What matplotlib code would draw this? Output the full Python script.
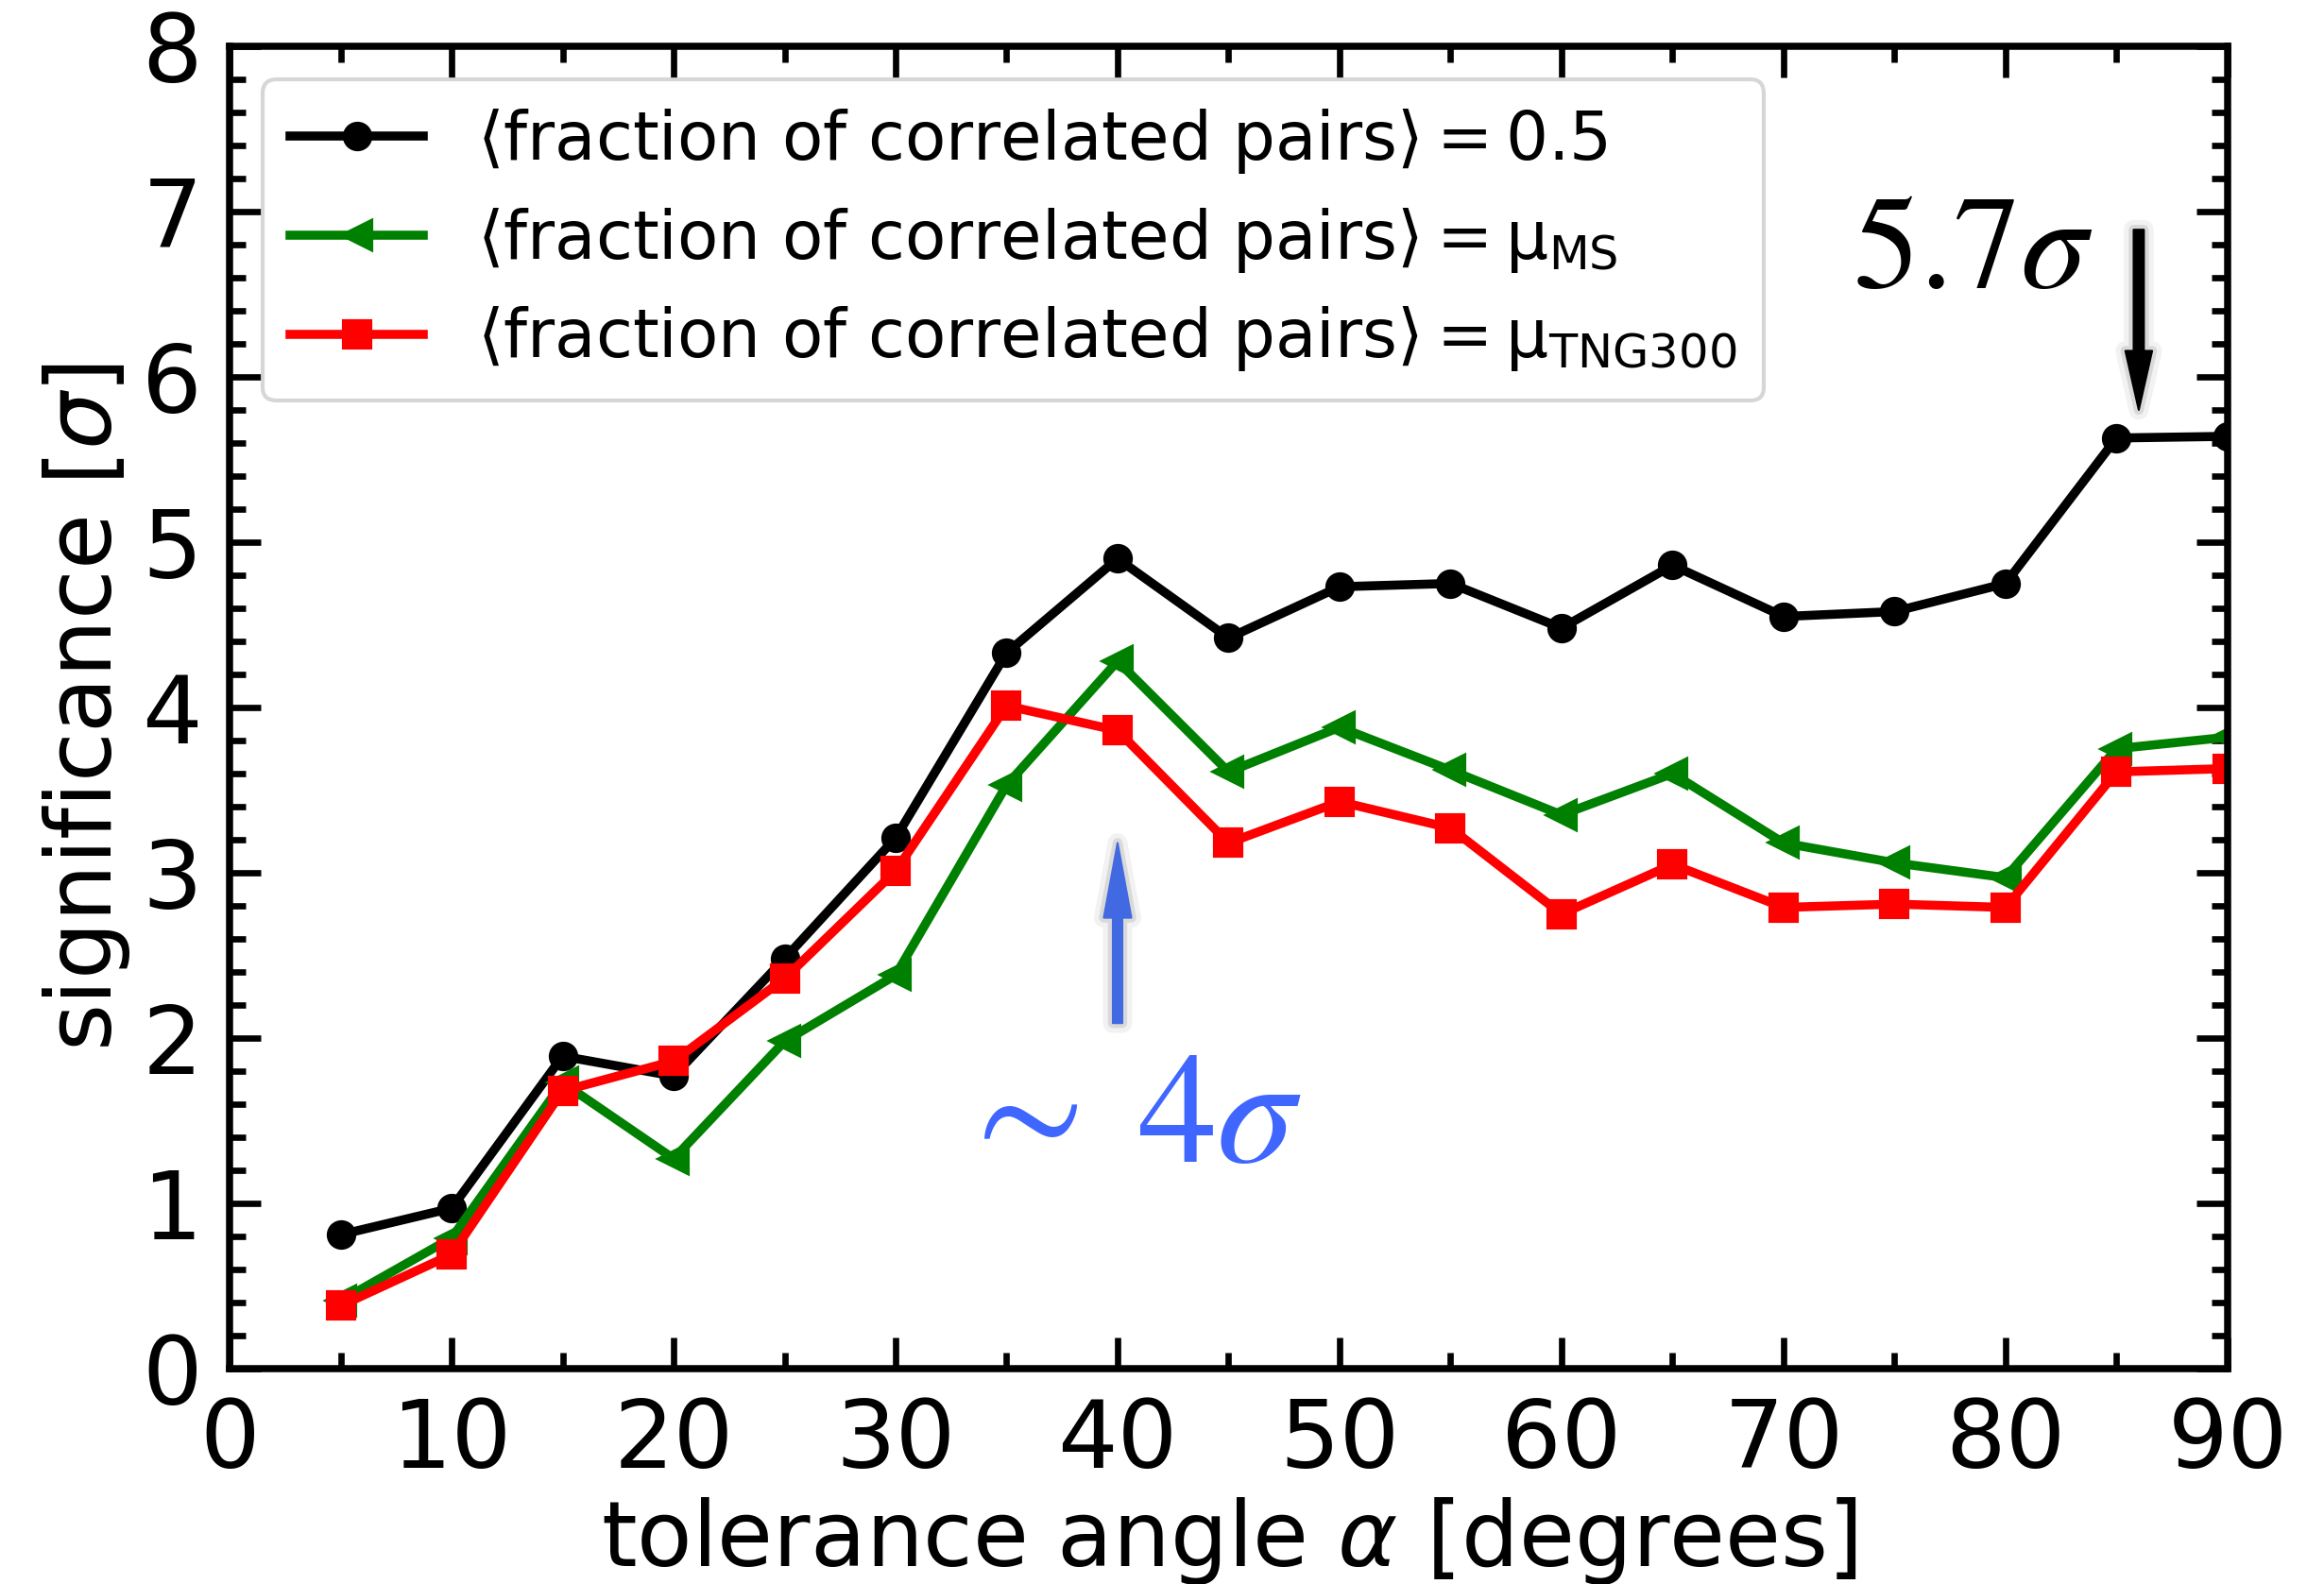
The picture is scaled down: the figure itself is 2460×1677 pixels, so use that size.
import matplotlib
matplotlib.use('Agg')
import matplotlib.pyplot as plt
import matplotlib.patheffects as pe
from matplotlib.ticker import MultipleLocator

# tolerance angle in degrees
angles = [5, 10, 15, 20, 25, 30, 35, 40, 45, 50, 55, 60, 65, 70, 75, 80, 85, 90]

# significance for the three assumed fractions
sig_half = [0.81, 0.97, 1.89, 1.77, 2.48, 3.21, 4.33, 4.90, 4.42, 4.73, 4.75, 4.48,
            4.86, 4.55, 4.58, 4.75, 5.63, 5.64]
sig_ms = [0.41, 0.79, 1.73, 1.27, 1.98, 2.38, 3.53, 4.28, 3.61, 3.88, 3.62, 3.35,
          3.60, 3.18, 3.06, 2.97, 3.75, 3.82]
sig_tng = [0.38, 0.69, 1.68, 1.86, 2.36, 3.01, 4.01, 3.86, 3.18, 3.43, 3.27, 2.75,
           3.05, 2.79, 2.81, 2.79, 3.61, 3.63]

labels = [r'$\langle$fraction of correlated pairs$\rangle = 0.5$',
          r'$\langle$fraction of correlated pairs$\rangle = \mathrm{\mu_{MS}}$',
          r'$\langle$fraction of correlated pairs$\rangle = \mathrm{\mu_{TNG300}}$']

fig = plt.figure(figsize=(8.2, 5.59), dpi=300)
ax = fig.add_axes([0.0988, 0.136, 0.8597, 0.8348])

ax.plot(angles, sig_half, color='k', marker='o', ms=6.5, lw=2.3, label=labels[0])
ax.plot(angles, sig_ms, color='green', marker='<', ms=7, lw=2.3, label=labels[1])
ax.plot(angles, sig_tng, color='red', marker='s', ms=6.5, lw=2.3, label=labels[2])

ax.set_xlim(0, 90)
ax.set_ylim(0, 8)
ax.xaxis.set_major_locator(MultipleLocator(10))
ax.xaxis.set_minor_locator(MultipleLocator(5))
ax.yaxis.set_major_locator(MultipleLocator(1))
ax.yaxis.set_minor_locator(MultipleLocator(0.2))
ax.tick_params(which='both', direction='in', top=True, right=True, width=1.6, labelsize=24)
ax.tick_params(which='major', length=8, pad=7)
ax.tick_params(which='minor', length=4)
for s in ax.spines.values():
    s.set_linewidth(1.8)

ax.set_xlabel(r'tolerance angle $\alpha$ [degrees]', fontsize=23, labelpad=2)
ax.set_ylabel(r'significance [$\sigma$]', fontsize=23, labelpad=2.5)

ax.legend(loc='upper left', fontsize=17, labelspacing=0.45)

# arrows with a soft shadow
shadow = [pe.Stroke(linewidth=5, foreground='k', alpha=0.05),
          pe.Stroke(linewidth=2.5, foreground='k', alpha=0.1), pe.Normal()]
ax.annotate('', xy=(86, 5.80), xytext=(86, 6.89),
            arrowprops=dict(width=2.6, headwidth=6.8, headlength=15,
                            facecolor='k', edgecolor='k', lw=0.5, path_effects=shadow))
ax.annotate('', xy=(40, 3.18), xytext=(40, 2.09),
            arrowprops=dict(width=2.4, headwidth=7, headlength=19,
                            facecolor='#4169E1', edgecolor='#4169E1', lw=0.5, path_effects=shadow))

ax.text(73.1, 6.54, r'$5.7\sigma$', fontsize=34, math_fontfamily='stix',
        ha='left', va='baseline', color='k')
ax.text(32.6, 1.25, r'$\sim\;4\sigma$', fontsize=40, math_fontfamily='stix',
        ha='left', va='baseline', color='#3f66ff')

fig.savefig('out.png', dpi=300)
